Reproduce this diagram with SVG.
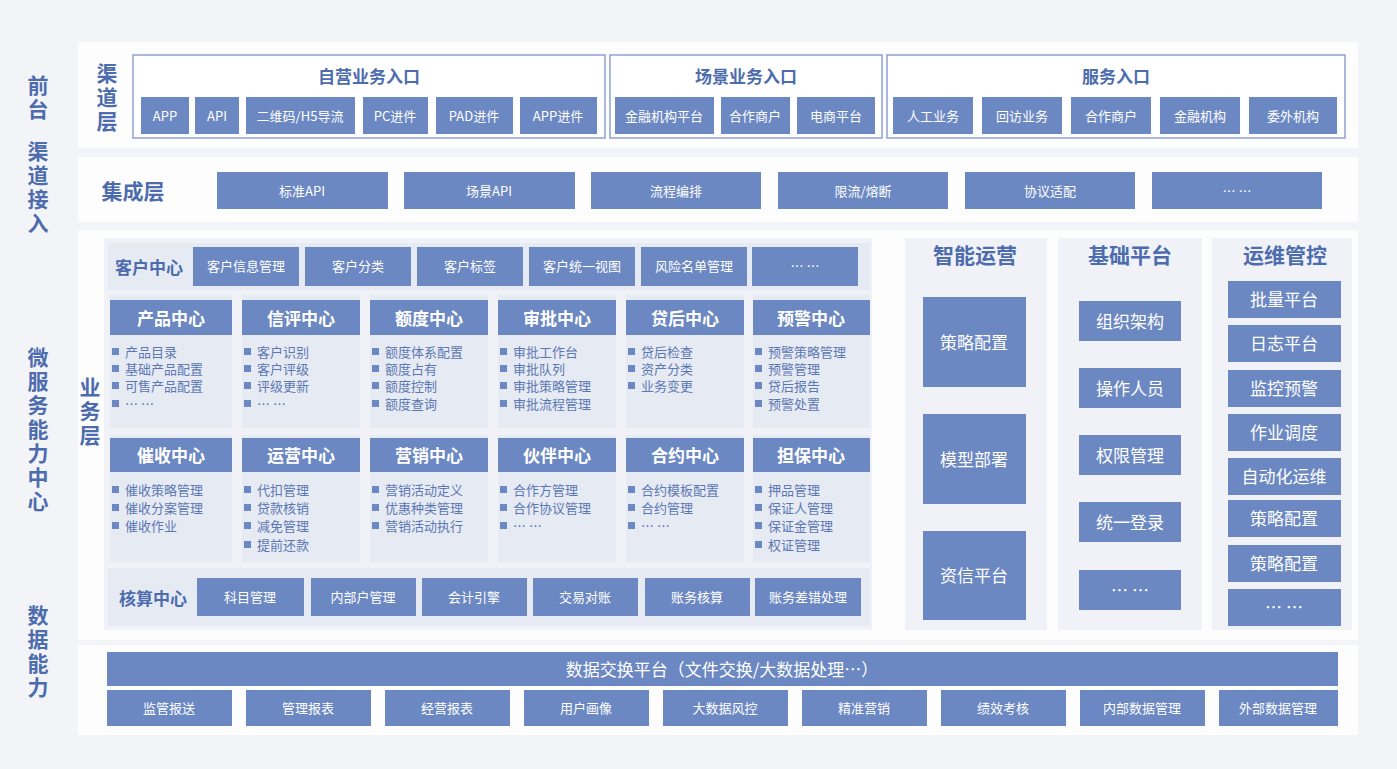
<svg xmlns="http://www.w3.org/2000/svg" width="1397" height="769" viewBox="0 0 1397 769">
<style>
text{font-family:"Noto Sans CJK SC","Liberation Sans",sans-serif}
.b{fill:#6c88c2}
.bt{fill:#fff;font-size:13px;text-anchor:middle;dominant-baseline:central}
.bt2{fill:#fff;font-size:17px;text-anchor:middle;dominant-baseline:central}
.ht{fill:#fff;font-size:17px;font-weight:bold;text-anchor:middle;dominant-baseline:central}
.lab{fill:#4d6cae;font-size:21px;font-weight:bold;text-anchor:middle;dominant-baseline:central}
.sec{fill:#4d6cae;font-size:17px;font-weight:bold;text-anchor:middle;dominant-baseline:central}
.it{fill:#5c78b4;font-size:13px;dominant-baseline:central}
.grp{fill:#fff;stroke:#8ea3d0;stroke-width:1.5}
.pan{fill:#fdfdfe}
.card{fill:#e6eaf3}
.bul{fill:#6c88c2}
</style>
<rect width="1397" height="769" fill="#f3f4f8"/>
<g id="sidelabels">
<text class="lab" x="38" y="84"><tspan x="38">前</tspan><tspan x="38" dy="24">台</tspan></text>
<text class="lab" x="38" y="150"><tspan x="38">渠</tspan><tspan x="38" dy="24">道</tspan><tspan x="38" dy="24">接</tspan><tspan x="38" dy="24">入</tspan></text>
<text class="lab" x="38" y="356"><tspan x="38">微</tspan><tspan x="38" dy="24">服</tspan><tspan x="38" dy="24">务</tspan><tspan x="38" dy="24">能</tspan><tspan x="38" dy="24">力</tspan><tspan x="38" dy="24">中</tspan><tspan x="38" dy="24">心</tspan></text>
<text class="lab" x="38" y="614"><tspan x="38">数</tspan><tspan x="38" dy="24">据</tspan><tspan x="38" dy="24">能</tspan><tspan x="38" dy="24">力</tspan></text>
</g>
<g id="channel">
<rect class="pan" x="78" y="42" width="1280" height="106"/>
<text class="lab" x="107" y="72"><tspan x="107">渠</tspan><tspan x="107" dy="24">道</tspan><tspan x="107" dy="24">层</tspan></text>
<rect class="grp" x="133" y="55" width="472" height="83"/>
<text class="sec" x="369" y="75" font-size="19">自营业务入口</text>
<rect class="b" x="141" y="97" width="48" height="37"/><text class="bt" x="165" y="115">APP</text>
<rect class="b" x="195" y="97" width="44" height="37"/><text class="bt" x="217" y="115">API</text>
<rect class="b" x="246" y="97" width="109" height="37"/><text class="bt" x="300" y="115">二维码/H5导流</text>
<rect class="b" x="363" y="97" width="65" height="37"/><text class="bt" x="395" y="115">PC进件</text>
<rect class="b" x="436" y="97" width="77" height="37"/><text class="bt" x="474" y="115">PAD进件</text>
<rect class="b" x="520" y="97" width="77" height="37"/><text class="bt" x="558" y="115">APP进件</text>
<rect class="grp" x="610" y="55" width="272" height="83"/>
<text class="sec" x="746" y="75" font-size="19">场景业务入口</text>
<rect class="b" x="615" y="97" width="99" height="37"/><text class="bt" x="664" y="115">金融机构平台</text>
<rect class="b" x="721" y="97" width="69" height="37"/><text class="bt" x="755" y="115">合作商户</text>
<rect class="b" x="797" y="97" width="78" height="37"/><text class="bt" x="836" y="115">电商平台</text>
<rect class="grp" x="887" y="55" width="458" height="83"/>
<text class="sec" x="1116" y="75" font-size="19">服务入口</text>
<rect class="b" x="893" y="97" width="80" height="37"/><text class="bt" x="933" y="115">人工业务</text>
<rect class="b" x="982" y="97" width="80" height="37"/><text class="bt" x="1022" y="115">回访业务</text>
<rect class="b" x="1071" y="97" width="80" height="37"/><text class="bt" x="1111" y="115">合作商户</text>
<rect class="b" x="1160" y="97" width="80" height="37"/><text class="bt" x="1200" y="115">金融机构</text>
<rect class="b" x="1249" y="97" width="88" height="37"/><text class="bt" x="1293" y="115">委外机构</text>
</g>
<g id="integration">
<rect class="pan" x="78" y="157" width="1280" height="65"/>
<text class="lab" x="133" y="190">集成层</text>
<rect class="b" x="217" y="172" width="171" height="37"/><text class="bt" x="302" y="190">标准API</text>
<rect class="b" x="404" y="172" width="171" height="37"/><text class="bt" x="489" y="190">场景API</text>
<rect class="b" x="591" y="172" width="170" height="37"/><text class="bt" x="676" y="190">流程编排</text>
<rect class="b" x="778" y="172" width="170" height="37"/><text class="bt" x="863" y="190">限流/熔断</text>
<rect class="b" x="965" y="172" width="170" height="37"/><text class="bt" x="1050" y="190">协议适配</text>
<rect class="b" x="1152" y="172" width="170" height="37"/><text class="bt" x="1237" y="190">… …</text>
</g>
<g id="micro">
<rect class="pan" x="78" y="230" width="1280" height="410"/>
<rect fill="#f0f2f7" x="104" y="238" width="768" height="392"/>
<text class="lab" x="90" y="386"><tspan x="90">业</tspan><tspan x="90" dy="24">务</tspan><tspan x="90" dy="24">层</tspan></text>
<rect class="card" x="108" y="243" width="762" height="47"/>
<text class="sec" x="149" y="266">客户中心</text>
<rect class="b" x="193" y="247" width="106" height="39"/><text class="bt" x="246" y="265">客户信息管理</text>
<rect class="b" x="305" y="247" width="106" height="39"/><text class="bt" x="358" y="265">客户分类</text>
<rect class="b" x="417" y="247" width="106" height="39"/><text class="bt" x="470" y="265">客户标签</text>
<rect class="b" x="529" y="247" width="106" height="39"/><text class="bt" x="582" y="265">客户统一视图</text>
<rect class="b" x="641" y="247" width="106" height="39"/><text class="bt" x="694" y="265">风险名单管理</text>
<rect class="b" x="752" y="247" width="106" height="39"/><text class="bt" x="805" y="265">… …</text>
</g>
<g id="cards">
<g id="c1"><rect class="card" x="110" y="295" width="122" height="133"/><rect class="b" x="110" y="300" width="122" height="35"/><text class="ht" x="171" y="317">产品中心</text>
<rect class="bul" x="112" y="348" width="7" height="7"/><text class="it" x="125" y="351">产品目录</text>
<rect class="bul" x="112" y="365" width="7" height="7"/><text class="it" x="125" y="368">基础产品配置</text>
<rect class="bul" x="112" y="382" width="7" height="7"/><text class="it" x="125" y="385">可售产品配置</text>
<rect class="bul" x="112" y="400" width="7" height="7"/><text class="it" x="125" y="403">… …</text></g>
<g id="c2"><rect class="card" x="242" y="295" width="118" height="133"/><rect class="b" x="242" y="300" width="118" height="35"/><text class="ht" x="301" y="317">信评中心</text>
<rect class="bul" x="244" y="348" width="7" height="7"/><text class="it" x="257" y="351">客户识别</text>
<rect class="bul" x="244" y="365" width="7" height="7"/><text class="it" x="257" y="368">客户评级</text>
<rect class="bul" x="244" y="382" width="7" height="7"/><text class="it" x="257" y="385">评级更新</text>
<rect class="bul" x="244" y="400" width="7" height="7"/><text class="it" x="257" y="403">… …</text></g>
<g id="c3"><rect class="card" x="370" y="295" width="118" height="133"/><rect class="b" x="370" y="300" width="118" height="35"/><text class="ht" x="429" y="317">额度中心</text>
<rect class="bul" x="372" y="348" width="7" height="7"/><text class="it" x="385" y="351">额度体系配置</text>
<rect class="bul" x="372" y="365" width="7" height="7"/><text class="it" x="385" y="368">额度占有</text>
<rect class="bul" x="372" y="382" width="7" height="7"/><text class="it" x="385" y="385">额度控制</text>
<rect class="bul" x="372" y="400" width="7" height="7"/><text class="it" x="385" y="403">额度查询</text></g>
<g id="c4"><rect class="card" x="498" y="295" width="118" height="133"/><rect class="b" x="498" y="300" width="118" height="35"/><text class="ht" x="557" y="317">审批中心</text>
<rect class="bul" x="500" y="348" width="7" height="7"/><text class="it" x="513" y="351">审批工作台</text>
<rect class="bul" x="500" y="365" width="7" height="7"/><text class="it" x="513" y="368">审批队列</text>
<rect class="bul" x="500" y="382" width="7" height="7"/><text class="it" x="513" y="385">审批策略管理</text>
<rect class="bul" x="500" y="400" width="7" height="7"/><text class="it" x="513" y="403">审批流程管理</text></g>
<g id="c5"><rect class="card" x="626" y="295" width="118" height="133"/><rect class="b" x="626" y="300" width="118" height="35"/><text class="ht" x="685" y="317">贷后中心</text>
<rect class="bul" x="628" y="348" width="7" height="7"/><text class="it" x="641" y="351">贷后检查</text>
<rect class="bul" x="628" y="365" width="7" height="7"/><text class="it" x="641" y="368">资产分类</text>
<rect class="bul" x="628" y="382" width="7" height="7"/><text class="it" x="641" y="385">业务变更</text></g>
<g id="c6"><rect class="card" x="753" y="295" width="117" height="133"/><rect class="b" x="753" y="300" width="117" height="35"/><text class="ht" x="811" y="317">预警中心</text>
<rect class="bul" x="755" y="348" width="7" height="7"/><text class="it" x="768" y="351">预警策略管理</text>
<rect class="bul" x="755" y="365" width="7" height="7"/><text class="it" x="768" y="368">预警管理</text>
<rect class="bul" x="755" y="382" width="7" height="7"/><text class="it" x="768" y="385">贷后报告</text>
<rect class="bul" x="755" y="400" width="7" height="7"/><text class="it" x="768" y="403">预警处置</text></g>
<g id="c7"><rect class="card" x="110" y="435" width="122" height="127"/><rect class="b" x="110" y="438" width="122" height="34"/><text class="ht" x="171" y="454">催收中心</text>
<rect class="bul" x="112" y="486" width="7" height="7"/><text class="it" x="125" y="489">催收策略管理</text>
<rect class="bul" x="112" y="504" width="7" height="7"/><text class="it" x="125" y="507">催收分案管理</text>
<rect class="bul" x="112" y="522" width="7" height="7"/><text class="it" x="125" y="525">催收作业</text></g>
<g id="c8"><rect class="card" x="242" y="435" width="118" height="127"/><rect class="b" x="242" y="438" width="118" height="34"/><text class="ht" x="301" y="454">运营中心</text>
<rect class="bul" x="244" y="486" width="7" height="7"/><text class="it" x="257" y="489">代扣管理</text>
<rect class="bul" x="244" y="504" width="7" height="7"/><text class="it" x="257" y="507">贷款核销</text>
<rect class="bul" x="244" y="522" width="7" height="7"/><text class="it" x="257" y="525">减免管理</text>
<rect class="bul" x="244" y="541" width="7" height="7"/><text class="it" x="257" y="544">提前还款</text></g>
<g id="c9"><rect class="card" x="370" y="435" width="118" height="127"/><rect class="b" x="370" y="438" width="118" height="34"/><text class="ht" x="429" y="454">营销中心</text>
<rect class="bul" x="372" y="486" width="7" height="7"/><text class="it" x="385" y="489">营销活动定义</text>
<rect class="bul" x="372" y="504" width="7" height="7"/><text class="it" x="385" y="507">优惠种类管理</text>
<rect class="bul" x="372" y="522" width="7" height="7"/><text class="it" x="385" y="525">营销活动执行</text></g>
<g id="c10"><rect class="card" x="498" y="435" width="118" height="127"/><rect class="b" x="498" y="438" width="118" height="34"/><text class="ht" x="557" y="454">伙伴中心</text>
<rect class="bul" x="500" y="486" width="7" height="7"/><text class="it" x="513" y="489">合作方管理</text>
<rect class="bul" x="500" y="504" width="7" height="7"/><text class="it" x="513" y="507">合作协议管理</text>
<rect class="bul" x="500" y="522" width="7" height="7"/><text class="it" x="513" y="525">… …</text></g>
<g id="c11"><rect class="card" x="626" y="435" width="118" height="127"/><rect class="b" x="626" y="438" width="118" height="34"/><text class="ht" x="685" y="454">合约中心</text>
<rect class="bul" x="628" y="486" width="7" height="7"/><text class="it" x="641" y="489">合约模板配置</text>
<rect class="bul" x="628" y="504" width="7" height="7"/><text class="it" x="641" y="507">合约管理</text>
<rect class="bul" x="628" y="522" width="7" height="7"/><text class="it" x="641" y="525">… …</text></g>
<g id="c12"><rect class="card" x="753" y="435" width="117" height="127"/><rect class="b" x="753" y="438" width="117" height="34"/><text class="ht" x="811" y="454">担保中心</text>
<rect class="bul" x="755" y="486" width="7" height="7"/><text class="it" x="768" y="489">押品管理</text>
<rect class="bul" x="755" y="504" width="7" height="7"/><text class="it" x="768" y="507">保证人管理</text>
<rect class="bul" x="755" y="522" width="7" height="7"/><text class="it" x="768" y="525">保证金管理</text>
<rect class="bul" x="755" y="541" width="7" height="7"/><text class="it" x="768" y="544">权证管理</text></g>
</g>
<g id="accounting">
<rect class="card" x="108" y="568" width="762" height="58"/>
<text class="sec" x="153" y="597">核算中心</text>
<rect class="b" x="197" y="578" width="107" height="38"/><text class="bt" x="250" y="596">科目管理</text>
<rect class="b" x="311" y="578" width="105" height="38"/><text class="bt" x="363" y="596">内部户管理</text>
<rect class="b" x="422" y="578" width="105" height="38"/><text class="bt" x="474" y="596">会计引擎</text>
<rect class="b" x="533" y="578" width="105" height="38"/><text class="bt" x="585" y="596">交易对账</text>
<rect class="b" x="645" y="578" width="105" height="38"/><text class="bt" x="697" y="596">账务核算</text>
<rect class="b" x="755" y="578" width="106" height="38"/><text class="bt" x="808" y="596">账务差错处理</text>
</g>
<g id="ops">
<rect fill="#f0f2f7" x="905" y="238" width="142" height="392"/>
<text class="lab" x="975" y="254">智能运营</text>
<rect class="b" x="923" y="297" width="103" height="90"/><text class="bt2" x="974" y="341">策略配置</text>
<rect class="b" x="923" y="414" width="103" height="90"/><text class="bt2" x="974" y="458">模型部署</text>
<rect class="b" x="923" y="531" width="103" height="89"/><text class="bt2" x="974" y="574">资信平台</text>
</g>
<g id="base">
<rect fill="#f0f2f7" x="1058" y="238" width="144" height="392"/>
<text class="lab" x="1130" y="254">基础平台</text>
<rect class="b" x="1079" y="301" width="102" height="40"/><text class="bt2" x="1130" y="320">组织架构</text>
<rect class="b" x="1079" y="368" width="102" height="40"/><text class="bt2" x="1130" y="387">操作人员</text>
<rect class="b" x="1079" y="435" width="102" height="40"/><text class="bt2" x="1130" y="454">权限管理</text>
<rect class="b" x="1079" y="502" width="102" height="40"/><text class="bt2" x="1130" y="521">统一登录</text>
<rect class="b" x="1079" y="570" width="102" height="40"/><text class="bt2" x="1130" y="589">… …</text>
</g>
<g id="devops">
<rect fill="#f0f2f7" x="1212" y="238" width="140" height="392"/>
<text class="lab" x="1285" y="254">运维管控</text>
<rect class="b" x="1228" y="281" width="113" height="37"/><text class="bt2" x="1284" y="298">批量平台</text>
<rect class="b" x="1228" y="325" width="113" height="37"/><text class="bt2" x="1284" y="342">日志平台</text>
<rect class="b" x="1228" y="370" width="113" height="37"/><text class="bt2" x="1284" y="387">监控预警</text>
<rect class="b" x="1228" y="414" width="113" height="37"/><text class="bt2" x="1284" y="431">作业调度</text>
<rect class="b" x="1228" y="458" width="113" height="37"/><text class="bt2" x="1284" y="475">自动化运维</text>
<rect class="b" x="1228" y="500" width="113" height="37"/><text class="bt2" x="1284" y="517">策略配置</text>
<rect class="b" x="1228" y="545" width="113" height="37"/><text class="bt2" x="1284" y="562">策略配置</text>
<rect class="b" x="1228" y="589" width="113" height="37"/><text class="bt2" x="1284" y="606">… …</text>
</g>
<g id="data">
<rect class="pan" x="78" y="645" width="1280" height="90"/>
<rect class="b" x="107" y="652" width="1231" height="34"/><text class="bt2" x="722" y="668">数据交换平台（文件交换/大数据处理…）</text>
<rect class="b" x="107" y="690" width="125" height="36"/><text class="bt" x="169" y="707">监管报送</text>
<rect class="b" x="246" y="690" width="125" height="36"/><text class="bt" x="308" y="707">管理报表</text>
<rect class="b" x="385" y="690" width="125" height="36"/><text class="bt" x="447" y="707">经营报表</text>
<rect class="b" x="524" y="690" width="125" height="36"/><text class="bt" x="586" y="707">用户画像</text>
<rect class="b" x="663" y="690" width="125" height="36"/><text class="bt" x="725" y="707">大数据风控</text>
<rect class="b" x="802" y="690" width="125" height="36"/><text class="bt" x="864" y="707">精准营销</text>
<rect class="b" x="941" y="690" width="125" height="36"/><text class="bt" x="1003" y="707">绩效考核</text>
<rect class="b" x="1080" y="690" width="125" height="36"/><text class="bt" x="1142" y="707">内部数据管理</text>
<rect class="b" x="1219" y="690" width="119" height="36"/><text class="bt" x="1278" y="707">外部数据管理</text>
</g>
<g id="connectors"/>
</svg>
